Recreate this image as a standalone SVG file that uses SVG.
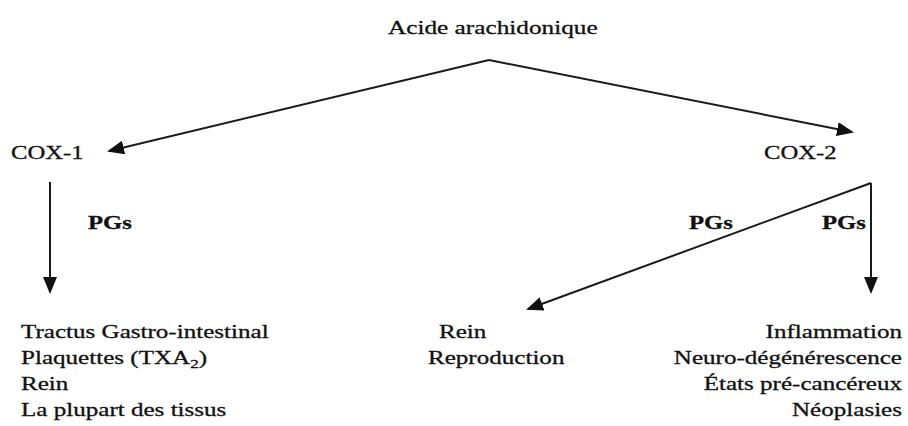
<svg xmlns="http://www.w3.org/2000/svg" width="908" height="426" viewBox="0 0 908 426">
  <style>
    text { font-family: "Liberation Serif", "Times New Roman", serif; font-size: 19px; fill: #111; stroke: #111; stroke-width: 0.3; }
    .lbl { font-weight: bold; }
    .end { text-anchor: end; }
    .link { fill: none; stroke: #1a1a1a; stroke-width: 2; marker-end: url(#head); }
  </style>
  <defs>
    <marker id="head" markerUnits="userSpaceOnUse" markerWidth="17" markerHeight="14" refX="15" refY="7" orient="auto">
      <path d="M0,0 L17,7 L0,14 z" fill="#111"/>
    </marker>
  </defs>

  <rect width="908" height="426" fill="#fff"/>

  <!-- connectors -->
  <g id="connectors">
    <path class="link" d="M489,60 L109,151"/>
    <path class="link" d="M489,60 L852,132"/>
    <path class="link" d="M50,182 L50,292"/>
    <path class="link" d="M871,183 L871,292"/>
    <path class="link" d="M871,183 L528,309"/>
    <text class="lbl" transform="translate(88,229) scale(1.3,1)">PGs</text>
    <text class="lbl" transform="translate(689,229) scale(1.3,1)">PGs</text>
    <text class="lbl" transform="translate(822,229) scale(1.3,1)">PGs</text>
  </g>

  <!-- nodes -->
  <g id="acide-arachidonique">
    <text transform="translate(388,34) scale(1.33,1)">Acide arachidonique</text>
  </g>
  <g id="cox-1">
    <text transform="translate(11,159) scale(1.3,1)">COX-1</text>
  </g>
  <g id="cox-2">
    <text transform="translate(764,159) scale(1.3,1)">COX-2</text>
  </g>
  <g id="cox-1-cibles">
    <text transform="translate(21,338) scale(1.32,1)">Tractus Gastro-intestinal</text>
    <text transform="translate(21,364) scale(1.32,1)">Plaquettes (TXA<tspan font-size="13" dy="4">2</tspan><tspan dy="-4">)</tspan></text>
    <text transform="translate(21,390) scale(1.32,1)">Rein</text>
    <text transform="translate(21,416) scale(1.32,1)">La plupart des tissus</text>
  </g>
  <g id="cox-2-physiologique">
    <text transform="translate(439,338) scale(1.32,1)">Rein</text>
    <text transform="translate(428,364) scale(1.32,1)">Reproduction</text>
  </g>
  <g id="cox-2-pathologique">
    <text class="end" transform="translate(902,338) scale(1.32,1)">Inflammation</text>
    <text class="end" transform="translate(902,364) scale(1.32,1)">Neuro-dégénérescence</text>
    <text class="end" transform="translate(902,390) scale(1.32,1)">États pré-cancéreux</text>
    <text class="end" transform="translate(902,416) scale(1.32,1)">Néoplasies</text>
  </g>
</svg>
